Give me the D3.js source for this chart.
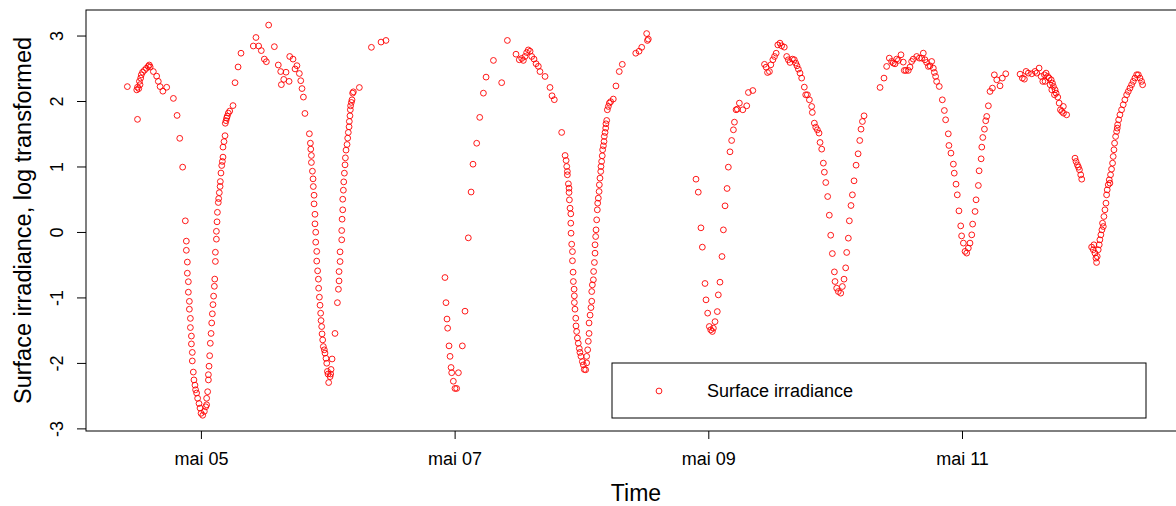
<!DOCTYPE html>
<html>
<head>
<meta charset="utf-8">
<script src="https://cdn.jsdelivr.net/npm/d3@7"></script>
<style>
  body { margin: 0; background: #fff; }
  svg text { font-family: "Liberation Sans", Arial, sans-serif; fill: #000; }
</style>
</head>
<body>
<div id="chart"></div>
<script>
// time as fractional day of May, value = log transformed surface irradiance
var days = [
  4.42, 4.494, 4.50, 4.50, 4.51, 4.515, 4.52, 4.525, 4.53, 4.54, 4.555, 4.57, 4.585, 4.593, 4.60,
  4.625, 4.651, 4.664, 4.678, 4.70, 4.73, 4.783, 4.812, 4.833, 4.856, 4.877, 4.885, 4.885, 4.893, 4.893,
  4.901, 4.901, 4.909, 4.909, 4.917, 4.917, 4.925, 4.925, 4.932, 4.932, 4.940, 4.945, 4.953, 4.958, 4.966,
  4.974, 4.985, 4.993, 5.001, 5.014, 5.027, 5.038, 5.045, 5.045, 5.053, 5.059, 5.059, 5.064, 5.069, 5.074,
  5.080, 5.085, 5.090, 5.095, 5.100, 5.106, 5.109, 5.114, 5.114, 5.122, 5.122, 5.127, 5.130, 5.137, 5.140,
  5.145, 5.151, 5.153, 5.158, 5.164, 5.169, 5.174, 5.174, 5.182, 5.190, 5.192, 5.198, 5.203, 5.208, 5.216,
  5.227, 5.253, 5.269, 5.293, 5.316, 5.413, 5.434, 5.455, 5.476, 5.500, 5.516, 5.534, 5.579, 5.610, 5.629,
  5.634, 5.653, 5.671, 5.695, 5.700, 5.726, 5.742, 5.757, 5.776, 5.787, 5.797, 5.808, 5.820,
  5.855, 5.863, 5.866, 5.871, 5.871, 5.879, 5.884, 5.886, 5.892, 5.892, 5.899, 5.899, 5.905, 5.905, 5.913,
  5.913, 5.920, 5.926, 5.928, 5.934, 5.939, 5.944, 5.947, 5.952, 5.955, 5.960, 5.965, 5.973, 5.978, 5.986,
  5.992, 5.997, 6.002, 6.007, 6.018, 6.023, 6.026, 6.034, 6.057, 6.076, 6.084, 6.089, 6.089, 6.097, 6.097,
  6.110, 6.110, 6.113, 6.118, 6.118, 6.123, 6.126, 6.131, 6.136, 6.139, 6.144, 6.152, 6.157, 6.162, 6.168,
  6.170, 6.175, 6.178, 6.180, 6.186, 6.191, 6.196, 6.202, 6.249, 6.344, 6.420, 6.459,
  6.924, 6.932, 6.940, 6.945, 6.956, 6.964, 6.972, 6.977, 6.990, 7.003, 7.016, 7.030, 7.061, 7.082, 7.108,
  7.130, 7.145, 7.174, 7.198, 7.227, 7.248, 7.306, 7.371, 7.416, 7.484, 7.510, 7.529, 7.542, 7.555, 7.568,
  7.581, 7.595, 7.608, 7.626, 7.642, 7.660, 7.673, 7.713, 7.752, 7.768, 7.786, 7.844, 7.871, 7.879, 7.884,
  7.889, 7.889, 7.897, 7.902, 7.902, 7.905, 7.910, 7.916, 7.916, 7.918, 7.923, 7.929, 7.929, 7.934, 7.936,
  7.942, 7.944, 7.944, 7.949, 7.955, 7.957, 7.962, 7.968, 7.975, 7.983, 7.988, 7.996, 8.007, 8.015, 8.022,
  8.033, 8.041, 8.041, 8.049, 8.054, 8.060, 8.060, 8.068, 8.075, 8.081, 8.081, 8.086, 8.094, 8.096, 8.102,
  8.107, 8.107, 8.112, 8.115, 8.120, 8.125, 8.128, 8.133, 8.139, 8.141, 8.146, 8.152, 8.154, 8.159, 8.164,
  8.167, 8.173, 8.178, 8.180, 8.186, 8.191, 8.193, 8.199, 8.204, 8.212, 8.220, 8.230, 8.251, 8.272, 8.298,
  8.322, 8.428, 8.454, 8.475, 8.514, 8.520, 8.527,
  8.903, 8.921, 8.942, 8.953, 8.974, 8.982, 8.995, 9.008, 9.019, 9.032, 9.040, 9.053, 9.071, 9.079, 9.092,
  9.108, 9.119, 9.132, 9.148, 9.158, 9.171, 9.184, 9.198, 9.206, 9.219, 9.229, 9.245, 9.272, 9.303, 9.316,
  9.351, 9.443, 9.456, 9.467, 9.482, 9.493, 9.509, 9.522, 9.535, 9.548, 9.565, 9.578, 9.599, 9.618, 9.631,
  9.644, 9.663, 9.678, 9.689, 9.699, 9.710, 9.723, 9.736, 9.757, 9.768, 9.781, 9.797, 9.815, 9.820, 9.836,
  9.847, 9.860, 9.873, 9.881, 9.894, 9.907, 9.915, 9.926, 9.941, 9.954, 9.965, 9.978, 9.994, 9.999, 10.012,
  10.025, 10.044, 10.057, 10.070, 10.083, 10.091, 10.104, 10.112, 10.125, 10.136, 10.149, 10.165, 10.181, 10.194, 10.204,
  10.215, 10.228, 10.354, 10.385, 10.406, 10.427, 10.445, 10.458, 10.472, 10.485, 10.498, 10.519, 10.537, 10.545, 10.558,
  10.577, 10.590, 10.603, 10.616, 10.643, 10.664, 10.682, 10.695, 10.708, 10.721, 10.735, 10.748, 10.761, 10.774, 10.782,
  10.792, 10.800, 10.821, 10.845, 10.861, 10.871, 10.892, 10.897, 10.913, 10.932, 10.939, 10.953, 10.963, 10.976, 10.990,
  10.997, 11.011, 11.024, 11.037, 11.050, 11.063, 11.077, 11.084, 11.103, 11.111, 11.129, 11.135, 11.151, 11.156, 11.164,
  11.177, 11.187, 11.195, 11.208, 11.221, 11.240, 11.255, 11.274, 11.300, 11.318, 11.345, 11.458, 11.476, 11.492, 11.505,
  11.523, 11.550, 11.576, 11.589, 11.608, 11.624, 11.637, 11.650, 11.655, 11.663, 11.676, 11.687, 11.695, 11.703, 11.708,
  11.713, 11.721, 11.729, 11.734, 11.742, 11.755, 11.766, 11.776, 11.787, 11.799, 11.800, 11.825,
  11.891, 11.899, 11.910, 11.918, 11.926, 11.936, 11.944,
  12.022, 12.035, 12.040, 12.048, 12.056, 12.061, 12.066, 12.074, 12.082, 12.087, 12.095, 12.103, 12.108, 12.114, 12.119,
  12.127, 12.135, 12.140, 12.145, 12.153, 12.161, 12.166, 12.171, 12.179, 12.187, 12.192, 12.198, 12.203, 12.211, 12.219,
  12.224, 12.227, 12.235, 12.245, 12.258, 12.271, 12.284, 12.298, 12.311, 12.324, 12.337, 12.350, 12.363, 12.377, 12.390,
  12.403, 12.416, 12.424
]

var irradiance = [
  2.22, 2.17, 1.72, 2.21, 2.19, 2.30, 2.25, 2.35, 2.40, 2.44, 2.47, 2.50, 2.53, 2.55, 2.52,
  2.45, 2.38, 2.30, 2.22, 2.15, 2.21, 2.04, 1.78, 1.43, 0.99, 0.17, -0.14, -0.28, -0.46, -0.63,
  -0.76, -0.92, -1.06, -1.18, -1.32, -1.46, -1.59, -1.71, -1.84, -1.97, -2.14, -2.26, -2.34, -2.41, -2.46,
  -2.54, -2.62, -2.69, -2.77, -2.80, -2.74, -2.67, -2.54, -2.64, -2.44, -2.26, -2.18, -2.05, -1.89, -1.70,
  -1.55, -1.39, -1.25, -1.11, -0.98, -0.83, -0.72, -0.45, -0.31, -0.11, 0.01, 0.155, 0.30, 0.45, 0.51,
  0.60, 0.695, 0.77, 0.90, 1.015, 1.077, 1.143, 1.296, 1.38, 1.47, 1.66, 1.70, 1.74, 1.77, 1.815,
  1.846, 1.93, 2.28, 2.52, 2.73, 2.84, 2.97, 2.84, 2.77, 2.64, 2.60, 3.16, 2.83, 2.55, 2.45,
  2.25, 2.33, 2.44, 2.30, 2.68, 2.64, 2.49, 2.54, 2.42, 2.31, 2.19, 2.06, 1.81,
  1.50, 1.356, 1.265, 1.168, 1.061, 0.928, 0.811, 0.694, 0.561, 0.429, 0.27, 0.124, -0.004, -0.156, -0.297,
  -0.445, -0.594, -0.721, -0.859, -0.996, -1.119, -1.241, -1.353, -1.445, -1.557, -1.649, -1.75, -1.80, -1.85, -1.93,
  -2.005, -2.13, -2.17, -2.30, -2.21, -2.17, -2.10, -1.94, -1.55, -1.08, -0.875, -0.748, -0.605, -0.452, -0.304,
  -0.12, 0.022, 0.195, 0.338, 0.50, 0.638, 0.765, 0.898, 1.025, 1.132, 1.25, 1.336, 1.433, 1.52, 1.606,
  1.688, 1.774, 1.866, 1.927, 1.978, 2.018, 2.12, 2.14, 2.206, 2.82, 2.90, 2.925,
  -0.696, -1.08, -1.33, -1.47, -1.74, -1.90, -2.07, -2.15, -2.28, -2.39, -2.39, -2.15, -1.74, -1.21, -0.09,
  0.61, 1.035, 1.355, 1.75, 2.12, 2.365, 2.62, 2.28, 2.925, 2.715, 2.63, 2.65, 2.62, 2.68, 2.74,
  2.78, 2.76, 2.68, 2.64, 2.57, 2.53, 2.45, 2.375, 2.207, 2.08, 2.02, 1.52, 1.168, 1.092, 1.0,
  0.924, 0.873, 0.735, 0.669, 0.603, 0.49, 0.363, 0.277, 0.134, -0.019, -0.187, -0.30, -0.44, -0.614, -0.757,
  -0.874, -0.976, -1.078, -1.18, -1.317, -1.435, -1.52, -1.62, -1.70, -1.78, -1.84, -1.90, -1.98, -2.03, -2.10,
  -2.105, -2.00, -1.90, -1.80, -1.67, -1.55, -1.39, -1.27, -1.155, -1.058, -0.91, -0.808, -0.73, -0.604, -0.466,
  -0.324, -0.196, -0.07, 0.032, 0.185, 0.338, 0.44, 0.516, 0.618, 0.72, 0.822, 0.924, 1.0, 1.077, 1.163,
  1.255, 1.316, 1.382, 1.459, 1.52, 1.586, 1.652, 1.703, 1.866, 1.917, 1.968, 1.99, 2.03, 2.23, 2.45,
  2.56, 2.73, 2.76, 2.82, 3.03, 2.925, 2.945,
  0.806, 0.608, 0.063, -0.232, -0.787, -1.037, -1.24, -1.444, -1.495, -1.52, -1.47, -1.37, -1.216, -0.961, -0.767,
  -0.375, 0.032, 0.399, 0.664, 0.99, 1.224, 1.397, 1.56, 1.677, 1.866, 1.876, 1.968, 1.866, 1.927, 2.13,
  2.16, 2.56, 2.517, 2.435, 2.45, 2.553, 2.63, 2.68, 2.73, 2.857, 2.884, 2.843, 2.823, 2.68, 2.63,
  2.589, 2.64, 2.63, 2.58, 2.538, 2.487, 2.426, 2.35, 2.212, 2.095, 2.095, 2.018, 1.917, 1.825, 1.662,
  1.60, 1.56, 1.51, 1.367, 1.265, 1.051, 0.913, 0.755, 0.541, 0.256, -0.05, -0.33, -0.61, -0.757, -0.859,
  -0.91, -0.935, -0.833, -0.721, -0.548, -0.313, -0.095, 0.17, 0.404, 0.567, 0.781, 1.02, 1.194, 1.397, 1.57,
  1.687, 1.774, 2.207, 2.35, 2.528, 2.655, 2.604, 2.579, 2.568, 2.64, 2.62, 2.706, 2.594, 2.467, 2.467,
  2.467, 2.518, 2.604, 2.64, 2.68, 2.655, 2.655, 2.731, 2.63, 2.589, 2.528, 2.538, 2.604, 2.502, 2.436,
  2.375, 2.299, 2.222, 2.018, 1.855, 1.713, 1.499, 1.321, 1.204, 1.036, 0.898, 0.730, 0.567, 0.322, 0.093,
  -0.06, -0.17, -0.297, -0.323, -0.246, -0.17, -0.044, 0.12, 0.313, 0.491, 0.71, 0.934, 1.117, 1.296, 1.443,
  1.57, 1.698, 1.764, 1.927, 2.146, 2.197, 2.40, 2.324, 2.232, 2.35, 2.416, 2.41, 2.35, 2.334, 2.452,
  2.426, 2.416, 2.452, 2.426, 2.503, 2.375, 2.299, 2.40, 2.30, 2.426, 2.375, 2.35, 2.248, 2.324, 2.171,
  2.273, 2.222, 2.095, 2.171, 2.12, 2.059, 1.968, 1.866, 1.841, 1.917, 1.815, 1.789,
  1.127, 1.076, 1.025, 0.99, 0.949, 0.873, 0.806,
  -0.231, -0.272, -0.196, -0.323, -0.40, -0.466, -0.374, -0.272, -0.196, -0.12, -0.044, 0.032, 0.134, 0.083, 0.236,
  0.338, 0.44, 0.567, 0.643, 0.72, 0.796, 0.746, 0.873, 0.959, 1.051, 1.153, 1.255, 1.356, 1.458, 1.535,
  1.586, 1.637, 1.713, 1.789, 1.866, 1.943, 2.019, 2.095, 2.146, 2.197, 2.248, 2.299, 2.35, 2.401, 2.401,
  2.35, 2.299, 2.248
]

var tickDays = [5, 7, 9, 11]
var tickLabels = ['mai 05', 'mai 07', 'mai 09', 'mai 11']
var yTicks = [-3, -2, -1, 0, 1, 2, 3]

// plot region runs a bit past the right edge of the picture (cropped in the original)
var margin = { top: 10, right: -10, bottom: 75, left: 86 }
var width = 1176 - margin.left - margin.right,
    height = 506 - margin.top - margin.bottom

// day-of-May number -> Date (UTC)
function toDate(d) {
  return new Date(Date.UTC(2021, 4, 1) + (d - 1) * 864e5)
}

var points = days.map(function (d, i) {
  return { time: toDate(d), value: irradiance[i] }
})

var svg = d3.select('#chart').append('svg')
    .attr('width', 1176)
    .attr('height', 506)
  .append('g')
    .attr('transform', 'translate(' + margin.left + ',' + margin.top + ')')

var xScale = d3.scaleUtc()
    .domain([toDate(4.094), toDate(12.766)])
    .range([0, width])

var yScale = d3.scaleLinear()
    .domain([-3.04, 3.39])
    .range([height, 0])

// points
svg.selectAll('.pt')
  .data(points)
  .enter().append('circle')
    .attr('class', 'pt')
    .attr('cx', function (d) { return xScale(d.time) })
    .attr('cy', function (d) { return yScale(d.value) })
    .attr('r', 2.9)
    .attr('fill', 'none')
    .attr('stroke', '#ff0000')
    .attr('stroke-width', 0.9)

// x axis
var xAxis = d3.axisBottom(xScale)
    .tickValues(tickDays.map(toDate))
    .tickSize(8)
    .tickPadding(13)
    .tickFormat(function (d, i) { return tickLabels[i] })

var gx = svg.append('g')
    .attr('transform', 'translate(0,' + height + ')')
    .call(xAxis)
gx.select('.domain').remove()
gx.selectAll('text').style('font-size', '18px').attr('fill', '#000')
gx.selectAll('line').attr('stroke', '#000')

// y axis
var yAxis = d3.axisLeft(yScale)
    .tickValues(yTicks)
    .tickSize(9)
    .tickFormat(function (d) { return String(d) })

var gy = svg.append('g').call(yAxis)
gy.select('.domain').remove()
gy.selectAll('line').attr('stroke', '#000')
gy.selectAll('text')
    .style('font-size', '18px')
    .attr('fill', '#000')
    .attr('text-anchor', 'middle')
    .attr('dy', null)
    .attr('x', null)
    .attr('transform', 'translate(-29,0) rotate(-90)')
    .attr('y', 0)
    .attr('dominant-baseline', 'central')

// box
svg.append('rect')
    .attr('x', 0)
    .attr('y', 0)
    .attr('width', width)
    .attr('height', height)
    .attr('fill', 'none')
    .attr('stroke', '#000')
    .attr('stroke-width', 1)

// axis titles
svg.append('text')
    .text('Time')
    .attr('x', width / 2)
    .attr('y', height + 70)
    .attr('text-anchor', 'middle')
    .style('font-size', '23px')

svg.append('text')
    .text('Surface irradiance, log transformed')
    .attr('transform', 'translate(' + (-margin.left + 31) + ',' + (height / 2) + ') rotate(-90)')
    .attr('text-anchor', 'middle')
    .style('font-size', '23.5px')

// legend
var legend = svg.append('g')
    .attr('transform', 'translate(' + (612 - margin.left) + ',' + (363 - margin.top) + ')')

legend.append('rect')
    .attr('width', 534)
    .attr('height', 55)
    .attr('fill', '#fff')
    .attr('stroke', '#000')
    .attr('stroke-width', 1)

legend.append('circle')
    .attr('cx', 47)
    .attr('cy', 28)
    .attr('r', 2.9)
    .attr('fill', 'none')
    .attr('stroke', '#ff0000')
    .attr('stroke-width', 0.9)

legend.append('text')
    .text('Surface irradiance')
    .attr('x', 95)
    .attr('y', 28)
    .attr('dominant-baseline', 'central')
    .style('font-size', '18px')
</script>
</body>
</html>
